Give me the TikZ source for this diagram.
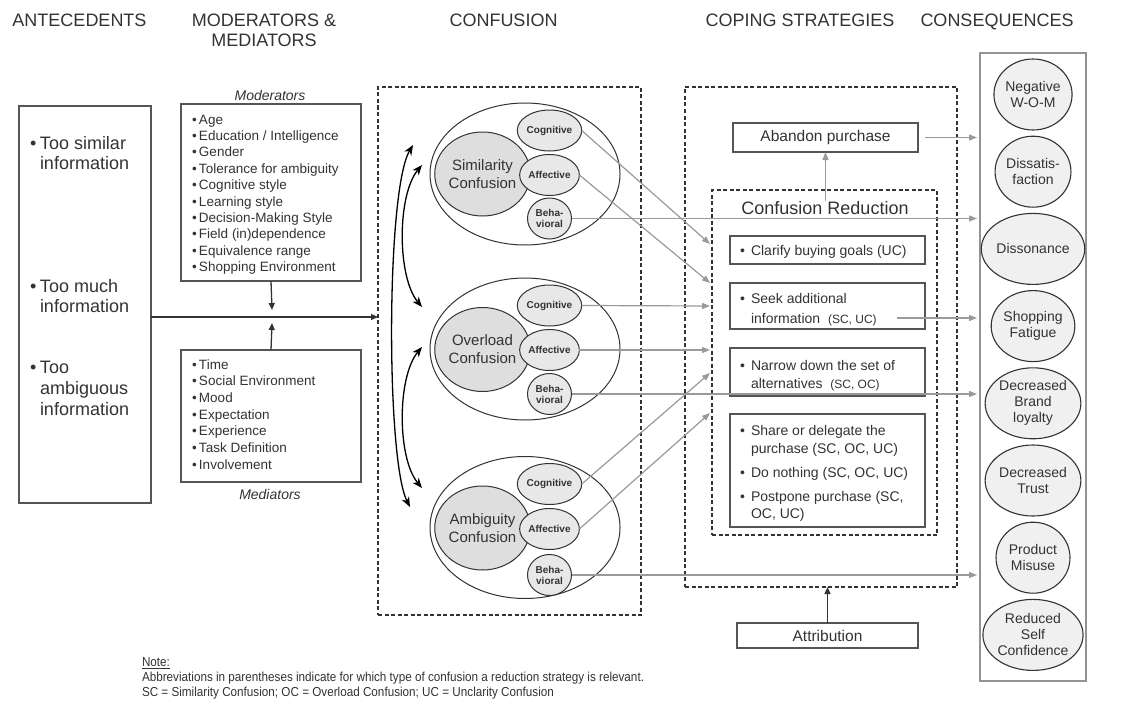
\documentclass[tikz,border=0pt]{standalone}
\usepackage{fontspec}
\setmainfont{Liberation Sans}
\newfontfamily\narrowfont[FakeStretch=0.9]{Liberation Sans}
\usetikzlibrary{arrows.meta,shapes.geometric,calc}

\definecolor{ink}{HTML}{333333}
\definecolor{frame}{HTML}{555555}
\definecolor{garrow}{HTML}{9A9A9A}
\definecolor{bigfill}{HTML}{DEDEDE}
\definecolor{smallfill}{HTML}{E8E8E8}
\definecolor{consfill}{HTML}{F0F0F0}

\newcommand\fsz[2]{\fontsize{#1}{#2}\selectfont}
\newcommand\bul[1]{\makebox[#1][l]{•}}
\newcommand\indentby[1]{\hspace*{#1}}

\begin{document}
\begin{tikzpicture}[x=1pt,y=-1pt,
  every node/.style={inner sep=0pt, outer sep=0pt, text=ink},
  head/.style={font=\fsz{18}{20.5}, align=center, anchor=base},
  solidbox/.style={draw=frame, line width=1.3pt, rectangle},
  dashbox/.style={draw=ink, line width=1.3pt, dash pattern=on 4pt off 2.5pt},
  bigoval/.style={ellipse, draw=ink, line width=1pt, minimum width=190pt, minimum height=142pt},
  kernel/.style={ellipse, draw=ink, line width=1pt, fill=bigfill, minimum width=89pt, minimum height=84pt, font=\fsz{15}{18}, align=center},
  facet/.style={ellipse, draw=ink, line width=1pt, fill=smallfill, minimum width=44pt, minimum height=41pt, font=\bfseries\fsz{10}{11}, align=center},
  outcome/.style={ellipse, draw=ink, line width=1.1pt, fill=consfill, minimum width=74pt, minimum height=71pt, font=\fsz{14}{16}, align=center},
  listtext/.style={anchor=base west, align=left},
  darr/.style={draw=ink, line width=1.3pt, -{Triangle[length=7pt,width=6pt]}},
  garr/.style={draw=garrow, line width=1.2pt, -{Triangle[length=8pt,width=6pt]}},
  swing/.style={draw=black, line width=1.3pt, {Stealth[length=10pt,width=8pt,inset=3pt]}-{Stealth[length=10pt,width=8pt,inset=3pt]}}
]
\fill[white] (0,0) rectangle (1129,704);
\useasboundingbox (0,0) rectangle (1129,704);

% column headings (anchored on the baseline of their last line)
\node[head] (hAnt)  at (79.5,26) {ANTECEDENTS};
\node[head] (hMod)  at (264,46.5) {MODERATORS \&\\MEDIATORS};
\node[head] (hConf) at (503.5,26) {CONFUSION};
\node[head] (hCope) at (800,26) {COPING STRATEGIES};
\node[head] (hCons) at (997,26) {CONSEQUENCES};

% antecedents
\node[solidbox, minimum width=132pt, minimum height=397pt] (ant) at (85,304.5) {};
\node[listtext, font=\fsz{18}{20.5}] (ante1) at (30,169.8) {\bul{10pt}Too similar\\\indentby{10pt}information};
\node[listtext, font=\fsz{18}{20.5}] (ante2) at (30,312.8) {\bul{10pt}Too much\\\indentby{10pt}information};
\node[listtext, font=\fsz{18}{21}] (ante3) at (30,415.3) {\bul{10pt}Too\\\indentby{10pt}ambiguous\\\indentby{10pt}information};

% moderators and mediators
\node[font=\itshape\fsz{14}{16}] (modlab) at (270,95) {Moderators};
\node[solidbox, minimum width=180pt, minimum height=177pt] (mod) at (271,192.5) {};
\node[listtext, font=\fsz{13.5}{16.4}] (modlist) at (192,271.6) {\bul{7pt}Age\\\bul{7pt}Education / Intelligence\\\bul{7pt}Gender\\\bul{7pt}Tolerance for ambiguity\\\bul{7pt}Cognitive style\\\bul{7pt}Learning style\\\bul{7pt}Decision-Making Style\\\bul{7pt}Field (in)dependence\\\bul{7pt}Equivalence range\\\bul{7pt}Shopping Environment};
\node[solidbox, minimum width=180pt, minimum height=132pt] (med) at (271,416) {};
\node[listtext, font=\fsz{13.5}{16.7}] (medlist) at (192,469.2) {\bul{7pt}Time\\\bul{7pt}Social Environment\\\bul{7pt}Mood\\\bul{7pt}Expectation\\\bul{7pt}Experience\\\bul{7pt}Task Definition\\\bul{7pt}Involvement};
\node[font=\itshape\fsz{14}{16}] (medlab) at (270,494) {Mediators};

% confusion column
\node[dashbox, minimum width=263pt, minimum height=528pt] (cbox) at (509.5,351) {};

\node[bigoval] (simO) at (525,174) {};
\node[kernel] (simK) at (482.5,174) {Similarity\\Confusion};
\node[facet] (simC) at (549.5,130.5) {Cognitive};
\node[facet] (simA) at (549.5,175) {Affective};
\node[facet] (simB) at (549.5,218.5) {Beha-\\vioral};

\node[bigoval] (ovlO) at (525,349) {};
\node[kernel] (ovlK) at (482.5,349.5) {Overload\\Confusion};
\node[facet] (ovlC) at (549.5,305.5) {Cognitive};
\node[facet] (ovlA) at (549.5,350) {Affective};
\node[facet] (ovlB) at (549.5,394) {Beha-\\vioral};

\node[bigoval] (ambO) at (525,527.5) {};
\node[kernel] (ambK) at (482.5,528) {Ambiguity\\Confusion};
\node[facet] (ambC) at (549.5,484) {Cognitive};
\node[facet] (ambA) at (549.5,529) {Affective};
\node[facet] (ambB) at (549.5,575) {Beha-\\vioral};

% links between the three kinds of confusion
\coordinate (swSimOut) at (413,145);
\coordinate (swAmbOut) at (410,507);
\coordinate (swSimIn) at (422,165);
\coordinate (swOvlTop) at (422,307);
\coordinate (swOvlBot) at (422,347);
\coordinate (swAmbIn) at (422,488);
\draw[swing] (swSimOut) .. controls (386,190) and (386,460) .. (swAmbOut);
\draw[swing] (swSimIn) .. controls (397,195) and (397,277) .. (swOvlTop);
\draw[swing] (swOvlBot) .. controls (397,377) and (397,458) .. (swAmbIn);

% antecedents feed confusion, moderated and mediated
\coordinate (junction) at (272,317);
\draw[darr] (ant.east |- junction) -- (cbox.west |- junction);
\draw[darr] (mod.south) -- ([yshift=7pt]junction);
\draw[darr] (med.north) -- ([yshift=-6pt]junction);

% coping strategies
\node[dashbox, minimum width=272pt, minimum height=500pt] (cope) at (821,337) {};
\node[solidbox, minimum width=185pt, minimum height=29pt, font=\fsz{15.5}{18}] (aban) at (825.5,137.5) {Abandon purchase};
\node[dashbox, minimum width=225pt, minimum height=345pt] (crbox) at (824.5,362.5) {};
\node[font=\fsz{18}{20}] (crtitle) at (825,208) {Confusion Reduction};
\draw[garr] (aban.south |- crtitle.north) -- (aban.south);

\node[solidbox, minimum width=195pt, minimum height=28pt] (clar) at (827.5,250) {};
\node[listtext, font=\fsz{14}{18}] (clarT) at (740,255) {\bul{11pt}Clarify buying goals (UC)};
\node[solidbox, minimum width=195pt, minimum height=46pt] (seek) at (827.5,306) {};
\node[listtext, font=\fsz{14}{20}] (seekT) at (740,323) {\bul{11pt}Seek additional\\\indentby{11pt}information~ {\fsz{12}{14}(SC, UC)}};
\node[solidbox, minimum width=195pt, minimum height=48pt] (narr) at (827.5,372) {};
\node[listtext, font=\fsz{14}{18}] (narrT) at (740,388) {\bul{11pt}Narrow down the set of\\\indentby{11pt}alternatives~ {\fsz{12}{14}(SC, OC)}};
\node[solidbox, minimum width=195pt, minimum height=113pt] (share) at (827.5,470.5) {};
\node[listtext, font=\fsz{14}{18}] (shareT) at (740,453) {\bul{11pt}Share or delegate the\\\indentby{11pt}purchase (SC, OC, UC)};
\node[listtext, font=\fsz{14}{18}] (nothT) at (740,477) {\bul{11pt}Do nothing (SC, OC, UC)};
\node[listtext, font=\fsz{14}{17}] (postT) at (740,518) {\bul{11pt}Postpone purchase (SC,\\\indentby{11pt}OC, UC)};

\node[solidbox, minimum width=181pt, minimum height=25pt, font=\fsz{15.5}{18}] (attr) at (827.5,635.5) {Attribution};
\draw[darr] (attr.north) -- (attr.north |- cope.south);

% consequences
\node[solidbox, draw=gray!85, minimum width=106pt, minimum height=628pt] (cons) at (1033,367) {};
\node[outcome] (wom)   at (1033,94.5)  {Negative\\W-O-M};
\node[outcome] (diss)  at (1033,171.7) {Dissatis-\\faction};
\node[outcome] (disso) at (1033,248.9) {Dissonance};
\node[outcome] (fatig) at (1033,326.1) {Shopping\\Fatigue};
\node[outcome] (brand) at (1033,403.3) {Decreased\\Brand\\loyalty};
\node[outcome] (trust) at (1033,480.5) {Decreased\\Trust};
\node[outcome] (misuse) at (1033,557.7) {Product\\Misuse};
\node[outcome] (selfc) at (1033,634.9) {Reduced\\Self\\Confidence};

% confusion facets into confusion reduction
\coordinate (inA) at (710,244);
\coordinate (inB) at (710,283);
\coordinate (inC) at (710,306);
\coordinate (inD) at (710,350);
\coordinate (inE) at (710,373);
\coordinate (inF) at (710,413);
\draw[garr] (simC.east) -- (inA);
\draw[garr] (simA.east) -- (inB);
\draw[garr] (ovlC.east) -- (inC);
\draw[garr] (ovlA.east) -- (inD);
\draw[garr] (ambC.east) -- (inE);
\draw[garr] (ambA.east) -- (inF);

% paths into consequences
\coordinate (seekout) at (897,318);
\draw[garr, shorten >=3pt] (simB.east) -- (cons.west |- simB.east);
\draw[garr, shorten >=3pt] (ovlB.east) -- (cons.west |- ovlB.east);
\draw[garr, shorten >=3pt] (ambB.east) -- (cons.west |- ambB.east);
\draw[garr, shorten <=7pt, shorten >=3pt] (aban.east) -- (cons.west |- aban.east);
\draw[garr, shorten >=3pt] (seekout) -- (cons.west |- seekout);

% note
\node[listtext, font=\narrowfont\fsz{13}{15}] (note1) at (142,666.5) {\underline{Note:}};
\node[listtext, font=\narrowfont\fsz{13}{15}] (note2) at (142,681.5) {Abbreviations in parentheses indicate for which type of confusion a reduction strategy is relevant.};
\node[listtext, font=\narrowfont\fsz{13}{15}] (note3) at (142,696.5) {SC = Similarity Confusion; OC = Overload Confusion; UC = Unclarity Confusion};
\end{tikzpicture}
\end{document}
